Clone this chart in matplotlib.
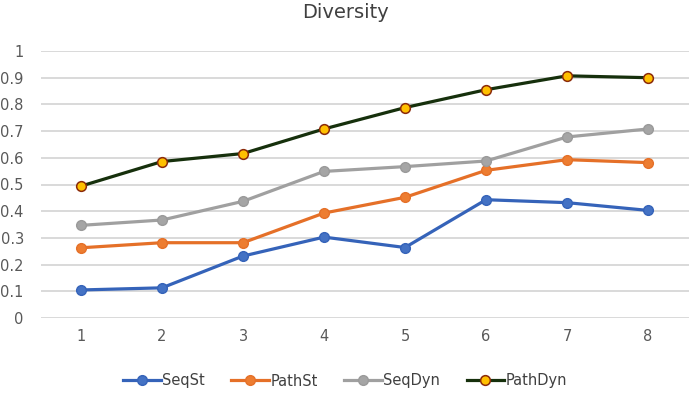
import numpy as np
import matplotlib.pyplot as plt

# Data
x = [1, 2, 3, 4, 5, 6, 7, 8]
seq_st = [0.105, 0.113, 0.232, 0.303, 0.264, 0.443, 0.432, 0.403]
path_st = [0.263, 0.282, 0.282, 0.393, 0.452, 0.553, 0.593, 0.582]
seq_dyn = [0.347, 0.367, 0.437, 0.549, 0.567, 0.588, 0.678, 0.708]
path_dyn = [0.494, 0.586, 0.616, 0.708, 0.788, 0.855, 0.907, 0.900]
yticks = [0, 0.1, 0.2, 0.3, 0.4, 0.5, 0.6, 0.7, 0.8, 0.9, 1]
ylabels = ["0", "0.1", "0.2", "0.3", "0.4", "0.5", "0.6", "0.7", "0.8", "0.9", "1"]

fig = plt.figure(figsize=(6.9, 3.93), dpi=100)
ax = fig.add_axes([40.5/690, 1 - 318/393, 648/690, 267/393])

ax.plot(x, seq_st, color="#3563B9", lw=2.3, marker="o", ms=7,
        mfc="#4472C4", mec="#3563B9", mew=1, label="SeqSt", zorder=3)
ax.plot(x, path_st, color="#E57028", lw=2.3, marker="o", ms=7,
        mfc="#ED7D31", mec="#E57028", mew=1, label="PathSt", zorder=3)
ax.plot(x, seq_dyn, color="#A0A0A0", lw=2.3, marker="o", ms=7,
        mfc="#A5A5A5", mec="#9A9A9A", mew=1, label="SeqDyn", zorder=3)
ax.plot(x, path_dyn, color="#16300C", lw=2.3, marker="o", ms=7,
        mfc="#FFC000", mec="#8B2A0A", mew=1.1, label="PathDyn", zorder=3)

ax.set_xlim(0.5, 8.5)
ax.set_ylim(0, 1)
ax.set_xticks(x)
ax.set_yticks(yticks)
ax.set_yticklabels(ylabels)
ax.grid(axis="y", color="#D0D0D0", lw=1.1)
ax.set_axisbelow(True)
for s in ax.spines.values():
    s.set_visible(False)
ax.tick_params(length=0, labelsize=10.5, colors="#595959", pad=8)
ax.tick_params(axis="y", pad=12)

fig.text(0.5, 1 - 13/393, "Diversity", ha="center", va="center",
         fontsize=14, color="#404040")

fig.legend(loc="center", bbox_to_anchor=(0.5, 1 - 381/393), ncol=4,
           frameon=False, fontsize=10.5, handlelength=2.6, handletextpad=0.1,
           columnspacing=1.8, labelcolor="#404040")

fig.savefig("out.png", dpi=100)
